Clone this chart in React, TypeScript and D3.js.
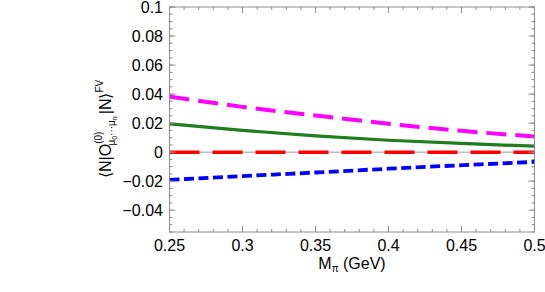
import React from "react";
import * as d3 from "d3";

const W = 545;
const H = 292;

const mpi = [0.25, 0.3, 0.35, 0.4, 0.45, 0.5];
const magenta = [0.0383, 0.0312, 0.0252, 0.0196, 0.0147, 0.0108];
const green = [0.0195, 0.015, 0.0112, 0.0082, 0.006, 0.0041];
const red = [0, 0, 0, 0, 0, 0];
const blue = [-0.0191, -0.0165, -0.014, -0.0114, -0.009, -0.0067];

const xTicks = [0.25, 0.3, 0.35, 0.4, 0.45, 0.5];
const xTickLabels = ["0.25", "0.3", "0.35", "0.4", "0.45", "0.5"];
const yTicks = [-0.04, -0.02, 0, 0.02, 0.04, 0.06, 0.08, 0.1];
const yTickLabels = ["\u22120.04", "\u22120.02", "0", "0.02", "0.04", "0.06", "0.08", "0.1"];

const series = [
  { name: "magenta", values: magenta, color: "#ff00ff", width: 4, dash: "20 9" },
  { name: "green", values: green, color: "#1e7d1e", width: 3.2, dash: "" },
  { name: "red", values: red, color: "#ff0000", width: 3.5, dash: "30 13" },
  { name: "blue", values: blue, color: "#0000ff", width: 3.8, dash: "10 4.5" },
];

export default function App() {
  const left = 169.5, right = 534.5, top = 7, bottom = 232;
  const x = d3.scaleLinear().domain([0.25, 0.5]).range([left, right]);
  const y = d3.scaleLinear().domain([-0.055, 0.1]).range([bottom, top]);
  const line = d3
    .line<number>()
    .x((_, i) => x(mpi[i]))
    .y((d) => y(d))
    .curve(d3.curveNatural);

  const xMinor = d3.range(0.25, 0.5001, 0.01);
  const yMinor = d3.range(-0.055, 0.1001, 0.005);
  const frame = "#8c8c8c";
  const font = "'Liberation Sans', Arial, Helvetica, sans-serif";

  return (
    <svg width={W} height={H} style={{ position: "absolute", left: 0, top: 0 }} fontFamily={font}>
      <rect x={0} y={0} width={W} height={H} fill="#fff" />
      <defs>
        <clipPath id="plot">
          <rect x={left} y={top} width={right - left} height={bottom - top} />
        </clipPath>
      </defs>
      {/* zero line */}
      <line x1={left} x2={right} y1={y(0)} y2={y(0)} stroke="#999" strokeWidth={1} />
      <g clipPath="url(#plot)">
        {series.map((s) => (
          <path
            key={s.name}
            d={line(s.values) || ""}
            fill="none"
            stroke={s.color}
            strokeWidth={s.width}
            strokeDasharray={s.dash || undefined}
          />
        ))}
      </g>
      {/* frame */}
      <rect x={left} y={top} width={right - left} height={bottom - top} fill="none" stroke={frame} strokeWidth={1} />
      {/* x ticks */}
      {xMinor.map((t, i) => (
        <g key={"xm" + i}>
          <line x1={x(t)} x2={x(t)} y1={bottom} y2={bottom - 3} stroke={frame} />
          <line x1={x(t)} x2={x(t)} y1={top} y2={top + 3} stroke={frame} />
        </g>
      ))}
      {xTicks.map((t, i) => (
        <g key={"x" + i}>
          <line x1={x(t)} x2={x(t)} y1={bottom} y2={bottom - 6} stroke={frame} />
          <line x1={x(t)} x2={x(t)} y1={top} y2={top + 6} stroke={frame} />
          <text x={x(t)} y={bottom + 19} fontSize={16} textAnchor="middle" fill="#000">
            {xTickLabels[i]}
          </text>
        </g>
      ))}
      {/* y ticks */}
      {yMinor.map((t, i) => (
        <g key={"ym" + i}>
          <line x1={left} x2={left + 3} y1={y(t)} y2={y(t)} stroke={frame} />
          <line x1={right} x2={right - 3} y1={y(t)} y2={y(t)} stroke={frame} />
        </g>
      ))}
      {yTicks.map((t, i) => (
        <g key={"y" + i}>
          <line x1={left} x2={left + 6} y1={y(t)} y2={y(t)} stroke={frame} />
          <line x1={right} x2={right - 6} y1={y(t)} y2={y(t)} stroke={frame} />
          <text x={163} y={y(t) + 5.5} fontSize={16} textAnchor="end" fill="#000">
            {yTickLabels[i]}
          </text>
        </g>
      ))}
      {/* x label */}
      <text x={352} y={269} fontSize={16} textAnchor="middle" fill="#000">
        M<tspan fontSize={10} dy={3}>π</tspan>
        <tspan dy={-3}> (GeV)</tspan>
      </text>
      {/* y label */}
      <g transform="translate(111,178) rotate(-90)">
        <text x={0} y={0} fontSize={16} fill="#000">
          ⟨N|O
          <tspan fontSize={10} dy={-9}>(0)</tspan>
          <tspan fontSize={10} dx={-14} dy={13}>μ</tspan>
          <tspan fontSize={7} dy={2}>0</tspan>
          <tspan fontSize={10} dy={-2}>···μ</tspan>
          <tspan fontSize={7} dy={2}>n</tspan>
          <tspan fontSize={16} dx={2} dy={-6}>|N⟩</tspan>
          <tspan fontSize={10} dy={-8}>FV</tspan>
        </text>
      </g>
    </svg>
  );
}
